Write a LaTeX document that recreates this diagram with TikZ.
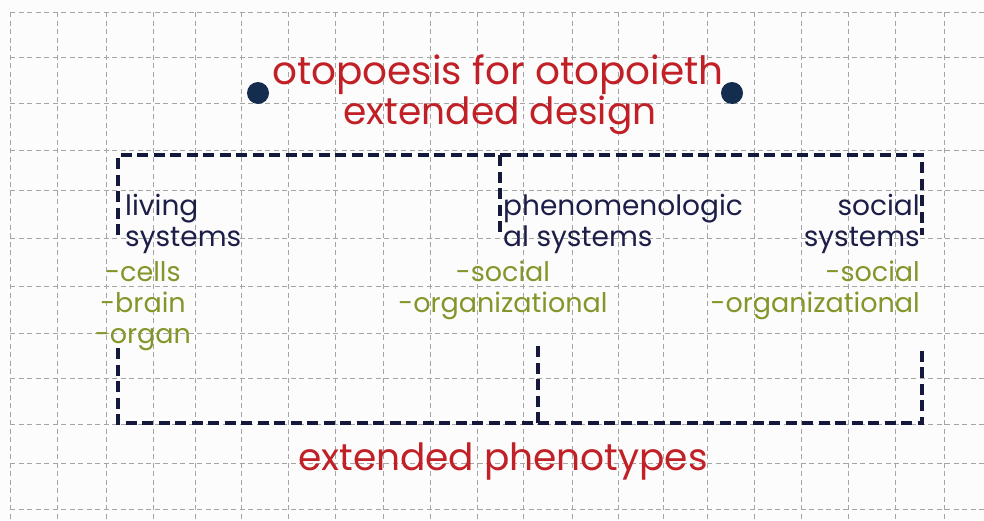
\documentclass[tikz,border=0pt]{standalone}
\usepackage{fontspec}
\setmainfont{Poppins}
\definecolor{titlered}{RGB}{192,32,38}
\definecolor{navytext}{RGB}{28,30,72}
\definecolor{olivetext}{RGB}{132,150,42}
\definecolor{framenavy}{RGB}{20,24,58}
\definecolor{dotnavy}{RGB}{20,45,78}
\definecolor{gridgray}{RGB}{165,165,165}
\definecolor{paper}{RGB}{252,252,252}
\begin{document}
\begin{tikzpicture}[x=1pt,y=-1pt,
  gridline/.style={draw=gridgray, line width=0.8pt, dash pattern=on 5pt off 3.5pt},
  frameline/.style={draw=framenavy, line width=3.2pt, dash pattern=on 11pt off 5.5pt},
  bigred/.style={text=titlered, font=\fontsize{39}{44}\selectfont, inner sep=0pt, anchor=base},
  navylbl/.style={text=navytext, font=\fontsize{28}{32}\selectfont, inner sep=0pt},
  olivelbl/.style={text=olivetext, font=\fontsize{27}{31}\selectfont, inner sep=0pt},
  dotmark/.style={circle, fill=dotnavy, minimum size=22pt, inner sep=0pt}]
\fill[paper] (0,0) rectangle (984,520);
\useasboundingbox (0,0) rectangle (984,520);
% grid
\foreach \x in {10,57,106,153,195,241,288,335,383,430,477,523,572,618,663,707,754,801,848,895,944}
  \draw[gridline] (\x,12) -- (\x,520);
\foreach \y in {12,57,103,150,190,238,286,333,378,424,463,509}
  \draw[gridline] (10,\y) -- (984,\y);
% title
\node[bigred] (title1) at (498,84) {otopoesis for otopoieth};
\node[bigred, font=\fontsize{37.5}{42}\selectfont] (title2) at (500,124) {extended design};
\node[dotmark] (dotL) at (258,93) {};
\node[dotmark] (dotR) at (732,93) {};
% frame
\coordinate (tl) at (118,155);
\coordinate (tr) at (922,155);
\coordinate (tm) at (500,155);
\coordinate (tlEnd) at (118,235);
\coordinate (trEnd) at (922,235);
\coordinate (tmEnd) at (500,234);
\coordinate (bl) at (118,423);
\coordinate (br) at (922,423);
\coordinate (bm) at (538,423);
\coordinate (blTop) at (118,348);
\coordinate (brTop) at (922,350);
\coordinate (bmTop) at (538,346);
\draw[frameline] (tlEnd) -- (tl) -- (tr) -- (trEnd);
\draw[frameline] (tm) -- (tmEnd);
\draw[frameline] (blTop) -- (bl) -- (br) -- (brTop);
\draw[frameline] (bm) -- (bmTop);
% navy labels
\node[navylbl, anchor=base west] (liv1) at (125,215) {living};
\node[navylbl, anchor=base west] (liv2) at (125,246) {systems};
\node[navylbl, anchor=base west] (phe1) at (503,215) {phenomenologic};
\node[navylbl, anchor=base west] (phe2) at (503,246) {al systems};
\node[navylbl, anchor=base east] (soc1) at (920,215) {social};
\node[navylbl, anchor=base east] (soc2) at (920,246) {systems};
% olive lists
\node[olivelbl, anchor=base] (cells) at (143,281) {-cells};
\node[olivelbl, anchor=base] (brain) at (143,312) {-brain};
\node[olivelbl, anchor=base] (organ) at (143,343) {-organ};
\node[olivelbl, anchor=base] (msoc) at (503,281) {-social};
\node[olivelbl, anchor=base] (morg) at (503,312) {-organizational};
\node[olivelbl, anchor=base east] (rsoc) at (920,281) {-social};
\node[olivelbl, anchor=base east] (rorg) at (920,312) {-organizational};
% bottom title
\node[bigred, font=\fontsize{37.5}{42}\selectfont] (ext) at (503,470) {extended phenotypes};
\end{tikzpicture}
\end{document}
